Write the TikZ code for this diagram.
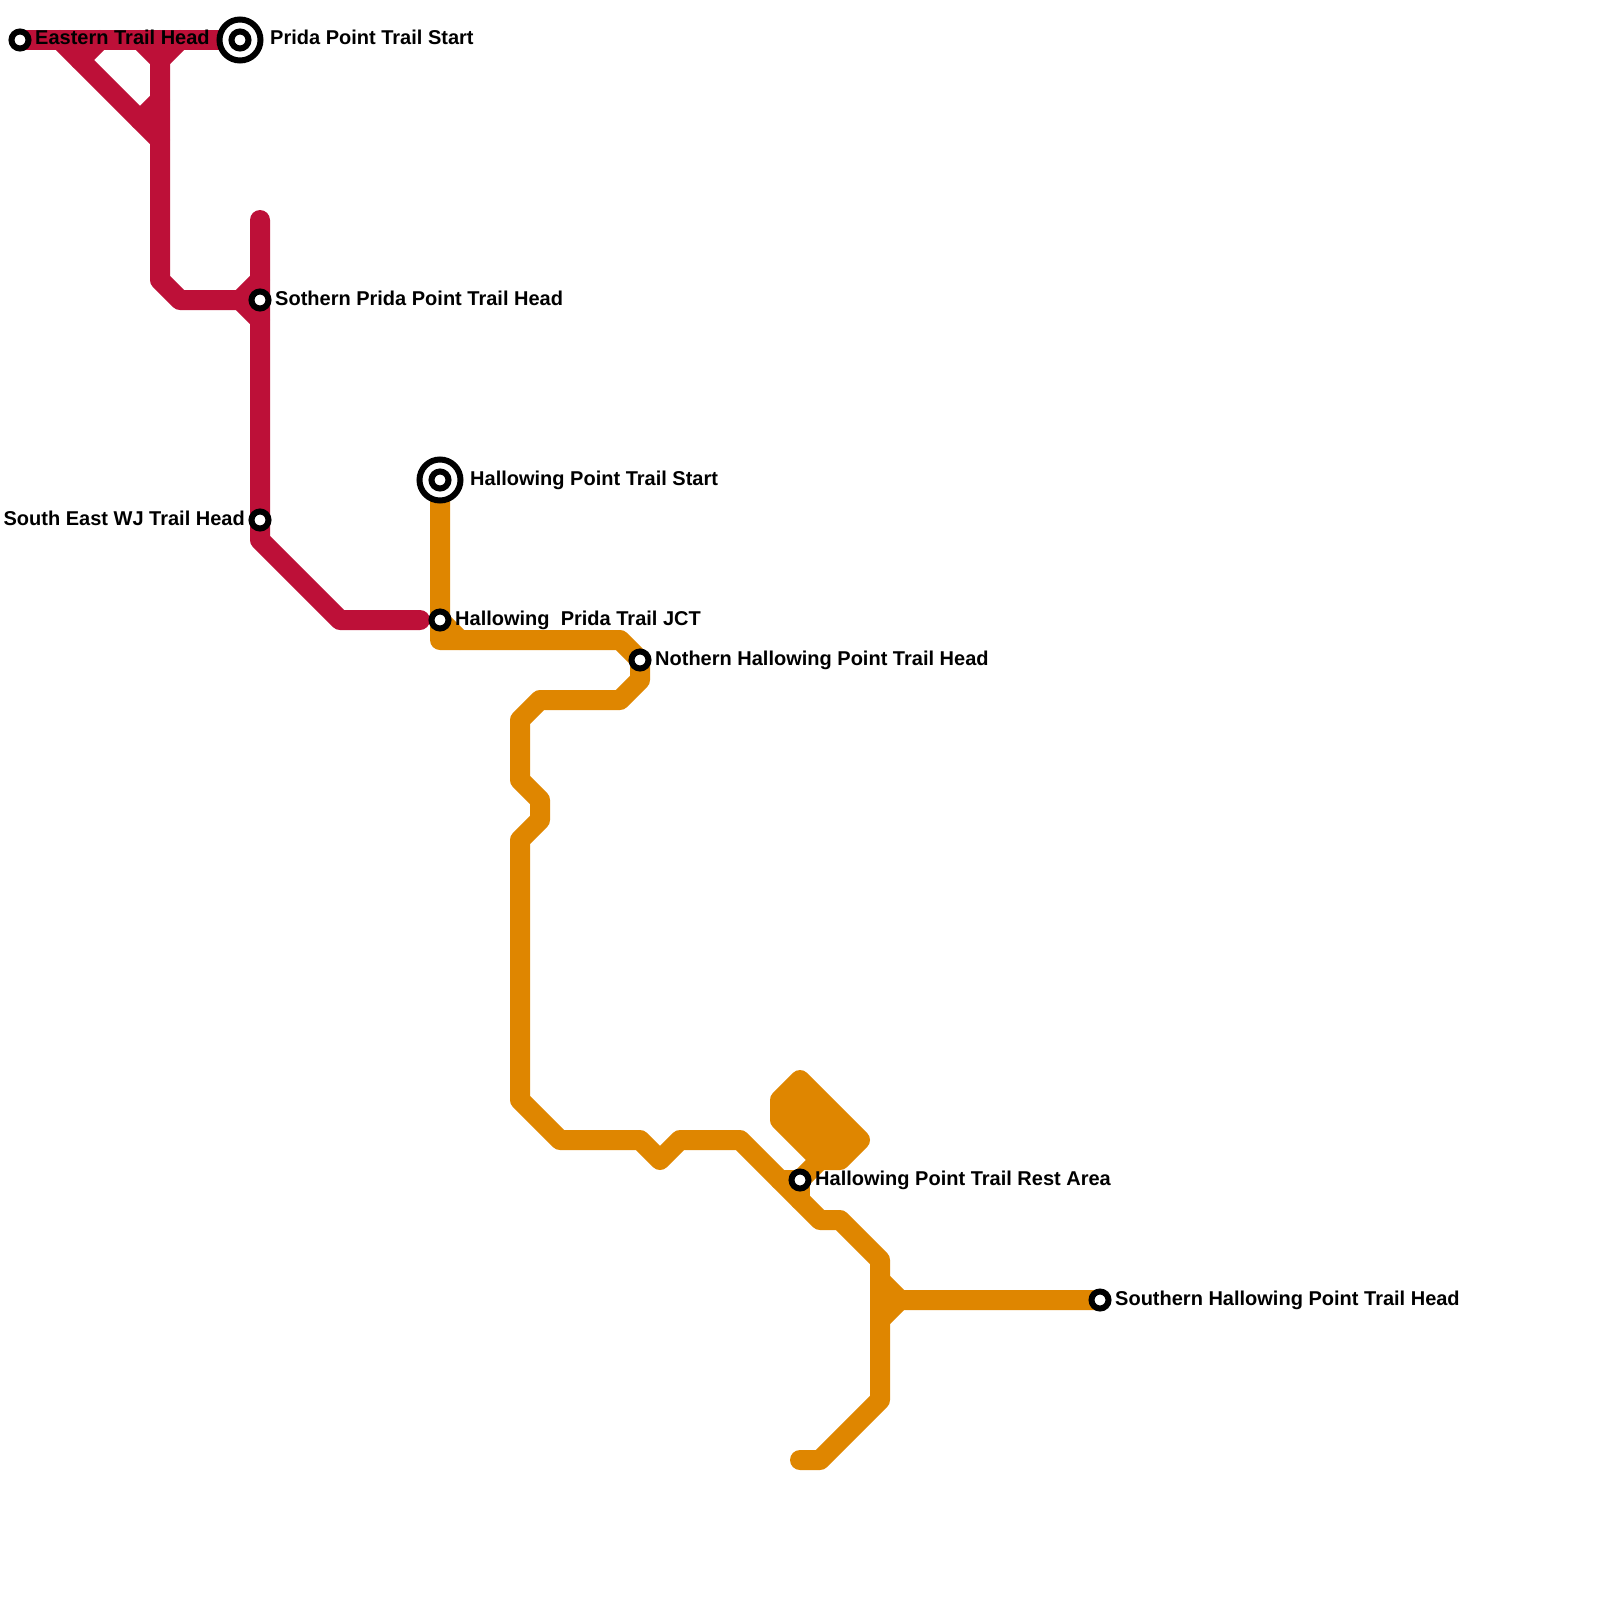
\documentclass[tikz,border=0pt]{standalone}
\usepackage{fontspec}
\setmainfont{Liberation Sans}
\definecolor{redline}{HTML}{BD1038}
\definecolor{orangeline}{HTML}{DF8600}
\tikzset{
  trail/.style={line width=20pt,line cap=round,line join=round},
  redtrail/.style={trail,draw=redline},
  orangetrail/.style={trail,draw=orangeline},
  stop/.style={circle,draw=black,fill=white,line width=6pt,minimum size=17pt,inner sep=0pt},
  bigring/.style={circle,draw=black,fill=white,line width=6pt,minimum size=41pt,inner sep=0pt},
  lbl/.style={font=\bfseries\fontsize{20}{20}\selectfont,text=black,inner sep=0pt}
}
\begin{document}
\begin{tikzpicture}[x=1pt,y=-1pt]
\useasboundingbox (0,0) rectangle (1600,1600);
\coordinate (eth) at (20,40);
\coordinate (pps) at (240,40);
\coordinate (sph) at (260,300);
\coordinate (sew) at (260,520);
\coordinate (hps) at (440,480);
\coordinate (hpj) at (440,620);
\coordinate (nhp) at (640,660);
\coordinate (hra) at (800,1180);
\coordinate (shp) at (1100,1300);
% red line
\draw[redtrail] (eth) -- (pps);
\draw[redtrail] (60,40) -- (160,140);
\draw[redtrail] (100,40) -- (80,60);
\draw[redtrail] (140,40) -- (160,60);
\draw[redtrail] (180,40) -- (160,60);
\draw[redtrail] (160,100) -- (140,120);
\draw[redtrail] (160,40) -- (160,280) -- (180,300) -- (240,300) -- (260,280);
\draw[redtrail] (240,300) -- (260,320);
\draw[redtrail] (260,220) -- (sph) -- (sew) -- (260,540) -- (340,620) -- (420,620);
% orange line
\draw[orangetrail] (hps) -- (hpj) -- (440,640) -- (620,640) -- (nhp) -- (640,680) -- (620,700) -- (540,700) -- (520,720) -- (520,780) -- (540,800) -- (540,820) -- (520,840) -- (520,1100) -- (560,1140) -- (640,1140) -- (660,1160) -- (680,1140) -- (740,1140) -- (820,1220) -- (840,1220) -- (880,1260) -- (880,1400) -- (820,1460) -- (800,1460);
\draw[orangetrail] (hpj) -- (460,640);
\draw[orangetrail] (880,1280) -- (900,1300) -- (shp);
\draw[orangetrail] (880,1320) -- (900,1300);
\draw[orangetrail,fill=orangeline] (800,1080) -- (780,1100) -- (780,1120) -- (820,1160) -- (840,1160) -- (860,1140) -- cycle;
\draw[orangetrail] (780,1180) -- (hra) -- (820,1160);
\draw[orangetrail] (hra) -- (800,1200);
% stations
\node[stop] (n1) at (eth) {};
\node[bigring] (n2o) at (pps) {};
\node[stop] (n2) at (pps) {};
\node[stop] (n3) at (sph) {};
\node[stop] (n4) at (sew) {};
\node[bigring] (n5o) at (hps) {};
\node[stop] (n5) at (hps) {};
\node[stop] (n6) at (hpj) {};
\node[stop] (n7) at (nhp) {};
\node[stop] (n8) at (hra) {};
\node[stop] (n9) at (shp) {};
% labels
\node[lbl,anchor=base west] (l1) at (35,45) {Eastern Trail Head};
\node[lbl,anchor=base west] (l2) at (270,45) {Prida Point Trail Start};
\node[lbl,anchor=base west] (l3) at (275,305) {Sothern Prida Point Trail Head};
\node[lbl,anchor=base east] (l4) at (245,525) {South East WJ Trail Head};
\node[lbl,anchor=base west] (l5) at (470,485) {Hallowing Point Trail Start};
\node[lbl,anchor=base west] (l6) at (455,625) {Hallowing\ \ Prida Trail JCT};
\node[lbl,anchor=base west] (l7) at (655,665) {Nothern Hallowing Point Trail Head};
\node[lbl,anchor=base west] (l8) at (815,1185) {Hallowing Point Trail Rest Area};
\node[lbl,anchor=base west] (l9) at (1115,1305) {Southern Hallowing Point Trail Head};
\end{tikzpicture}
\end{document}
